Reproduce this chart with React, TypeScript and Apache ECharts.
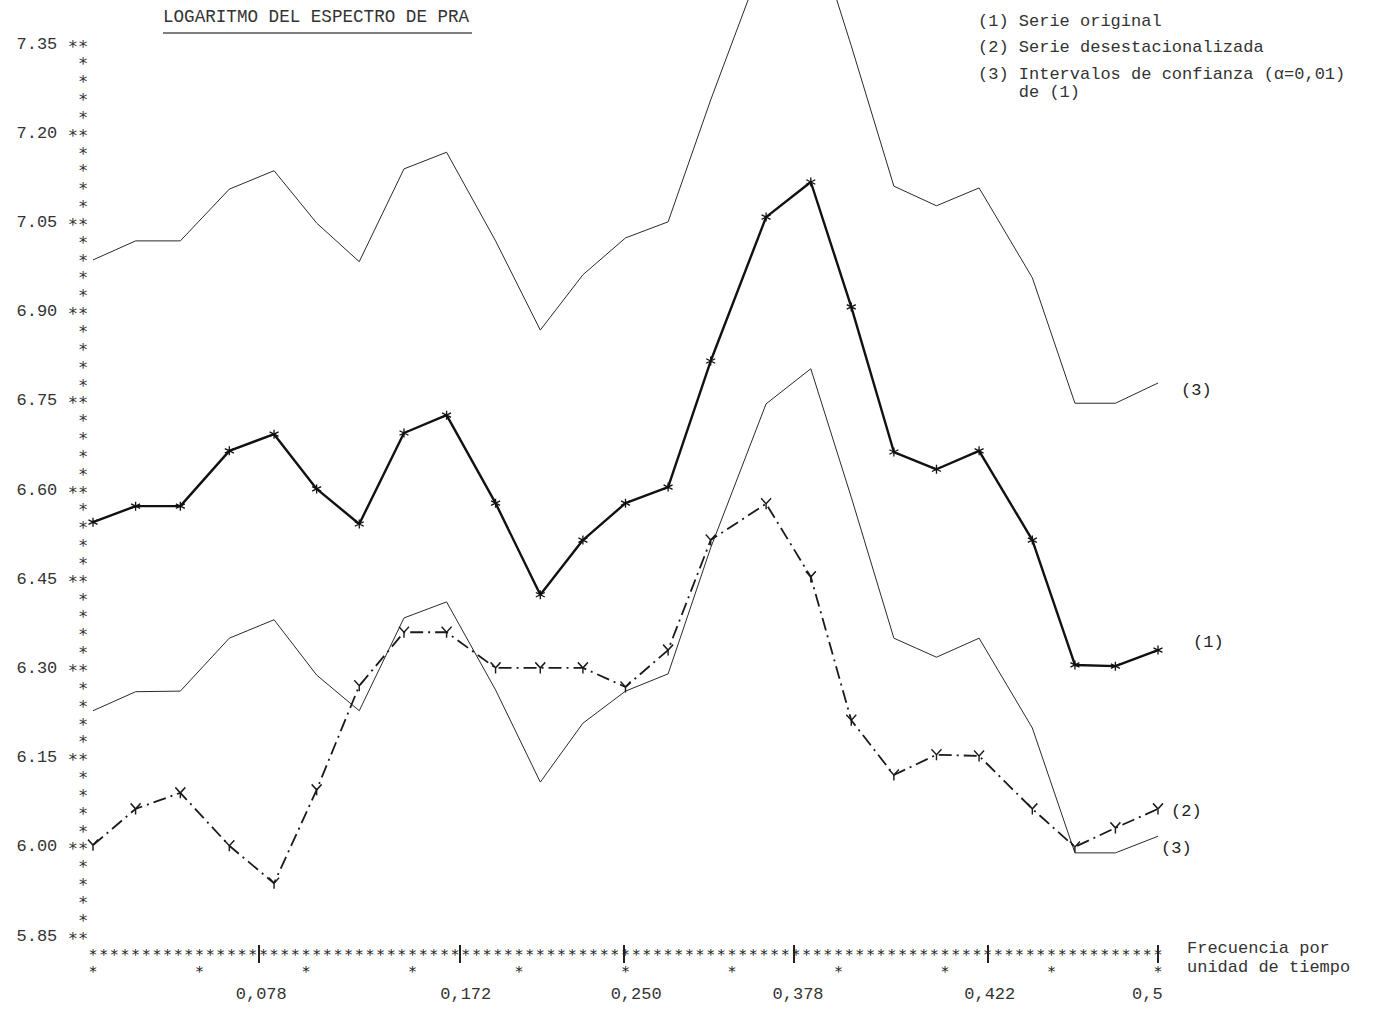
import React, { useEffect, useRef } from 'react';
import * as echarts from 'echarts';

// Frequencies (cycles per unit of time) of the plotted points
const FREQ = [0, 0.020, 0.041, 0.064, 0.085, 0.105, 0.125, 0.146, 0.166, 0.189, 0.210, 0.230, 0.250,
  0.270, 0.290, 0.316, 0.337, 0.356, 0.376, 0.396, 0.416, 0.441, 0.461, 0.480, 0.500];

// (1) Serie original
const SERIE_ORIGINAL = [6.546, 6.573, 6.573, 6.666, 6.694, 6.602, 6.543, 6.696, 6.726, 6.578, 6.424, 6.516,
  6.578, 6.605, 6.817, 7.059, 7.118, 6.908, 6.664, 6.635, 6.666, 6.516, 6.306, 6.304, 6.331];

// (2) Serie desestacionalizada
const SERIE_DESEST = [6.003, 6.064, 6.091, 6.002, 5.939, 6.096, 6.271, 6.361, 6.361, 6.301, 6.301, 6.301,
  6.269, 6.331, 6.516, 6.577, 6.454, 6.213, 6.121, 6.155, 6.153, 6.064, 6.000, 6.032, 6.064];

// (3) Intervalos de confianza de (1)
const IC_SUP = [6.987, 7.019, 7.019, 7.106, 7.137, 7.049, 6.984, 7.140, 7.168, 7.019, 6.869, 6.962,
  7.024, 7.051, 7.256, 7.505, 7.562, 7.347, 7.111, 7.078, 7.108, 6.957, 6.746, 6.746, 6.780];
const IC_INF = [6.229, 6.261, 6.262, 6.351, 6.382, 6.289, 6.229, 6.385, 6.412, 6.264, 6.109, 6.208,
  6.262, 6.291, 6.503, 6.745, 6.804, 6.588, 6.351, 6.319, 6.351, 6.200, 5.990, 5.990, 6.018];

// X tick labels as typed on the printout, where the marks and labels sit on the frequency axis
const X_LABELS = ['0,078', '0,172', '0,250', '0,378', '0,422', '0,5'];
const X_TICK_AT = [0.078, 0.172, 0.249, 0.329, 0.420, 0.500];
const X_LABEL_AT = [0.079, 0.175, 0.255, 0.331, 0.421, 0.495];

const TITLE = 'LOGARITMO DEL ESPECTRO DE PRA';
const LEGEND = ['(1) Serie original', '(2) Serie desestacionalizada', '(3) Intervalos de confianza (\u03b1=0,01)', '    de (1)'];
const X_NAME = ['Frecuencia por', 'unidad de tiempo'];

const Y_MIN = 5.82;
const Y_MAX = 7.424;
const Y_STEP = 0.03;
const X_STEP = 0.005;

export default function App() {
  const ref = useRef<HTMLDivElement>(null);

  useEffect(() => {
    document.body.style.margin = '0';
    const chart = echarts.init(ref.current!, null, { renderer: 'svg' });
    const MONO = '"Liberation Mono", "DejaVu Sans Mono", monospace';
    const STAR = '\u2217';
    const pts = (ys: number[]) => FREQ.map((f, i) => [f, ys[i]]);
    const ASTER = 'path://M0,-6L0,6M-5.2,-3L5.2,3M-5.2,3L5.2,-3';
    const YSYM = 'path://M-5,-6L0,0M5,-6L0,0M0,0L0,6';

    const labelText = (v: number) => {
      let best = -1;
      let d = 1;
      X_LABEL_AT.forEach((p, i) => {
        const dd = Math.abs(p - v);
        if (dd < d) { d = dd; best = i; }
      });
      return best >= 0 && d < 1e-4 ? X_LABELS[best] : '';
    };

    const endLabel = (text: string, distance: number, dy: number) => ({
      show: true,
      formatter: text,
      distance,
      offset: [0, dy],
      fontFamily: MONO,
      fontSize: 17,
      color: '#222',
    });

    chart.setOption({
      animation: false,
      backgroundColor: '#ffffff',
      grid: { left: 93, right: 219, top: 0, bottom: 57, containLabel: false },
      xAxis: [
        {
          type: 'value', min: 0, max: 0.5, interval: X_STEP, position: 'bottom',
          axisLine: { show: false }, axisTick: { show: false }, splitLine: { show: false },
          axisLabel: {
            show: true, margin: -9, fontFamily: MONO, fontSize: 15, lineHeight: 17, color: '#222',
            formatter: (v: number) => {
              const k = Math.round(v / X_STEP);
              return k % 10 === 0 ? STAR + '\n' + STAR : STAR;
            },
          },
        },
        {
          type: 'value', min: 0, max: 0.5, position: 'bottom',
          axisLine: { show: false }, splitLine: { show: false },
          axisTick: { show: true, inside: true, length: 9, customValues: X_TICK_AT, lineStyle: { color: '#222', width: 2 } },
          axisLabel: { show: true, customValues: X_LABEL_AT, margin: 32, fontFamily: MONO, fontSize: 17, color: '#333', formatter: labelText },
        },
        {
          type: 'value', min: 0, max: 0.5, position: 'bottom',
          axisLine: { show: false }, splitLine: { show: false },
          axisTick: { show: true, inside: false, length: 9, customValues: X_TICK_AT, lineStyle: { color: '#222', width: 2 } },
          axisLabel: { show: false },
        },
      ],
      yAxis: {
        type: 'value', min: Y_MIN, max: Y_MAX, interval: Y_STEP,
        axisLine: { show: false }, axisTick: { show: false }, splitLine: { show: false },
        axisLabel: {
          show: true, margin: 5, fontFamily: MONO, fontSize: 17, color: '#333',
          formatter: (v: number) => {
            const k = Math.round((v - Y_MIN) / Y_STEP);
            if (k < 1 || k > 51) return '';
            if ((k - 1) % 5 === 0) return v.toFixed(2) + ' ' + STAR + STAR;
            return STAR;
          },
        },
      },
      series: [
        {
          name: '(3) sup', type: 'line', data: pts(IC_SUP), symbol: 'none', clip: true,
          lineStyle: { color: '#2a2a2a', width: 1 },
          endLabel: endLabel('(3)', 23, 7),
        },
        {
          name: '(3) inf', type: 'line', data: pts(IC_INF), symbol: 'none', clip: true,
          lineStyle: { color: '#2a2a2a', width: 1 },
          endLabel: endLabel('(3)', 3, 12),
        },
        {
          name: '(2)', type: 'line', data: pts(SERIE_DESEST), symbol: YSYM, symbolSize: [10, 11], clip: true,
          lineStyle: { color: '#1a1a1a', width: 1.8, type: [13, 5, 2, 5] },
          itemStyle: { color: 'transparent', borderColor: '#1a1a1a', borderWidth: 1.5 },
          endLabel: endLabel('(2)', 13, 3),
        },
        {
          name: '(1)', type: 'line', data: pts(SERIE_ORIGINAL), symbol: ASTER, symbolSize: 9, clip: true,
          lineStyle: { color: '#111', width: 2.4 },
          itemStyle: { color: 'transparent', borderColor: '#111', borderWidth: 1.3 },
          endLabel: endLabel('(1)', 35, -8),
        },
      ],
      graphic: [
        { type: 'text', left: 163, top: 8, style: { text: TITLE, fontFamily: MONO, fontSize: 17.6, fill: '#333' } },
        { type: 'line', shape: { x1: 163, y1: 33, x2: 472, y2: 33 }, style: { stroke: '#555', lineWidth: 1.3 } },
        { type: 'text', x: 978, y: 21, style: { text: LEGEND[0], fontFamily: MONO, fontSize: 17, fill: '#333', verticalAlign: 'middle' } },
        { type: 'text', x: 978, y: 47, style: { text: LEGEND[1], fontFamily: MONO, fontSize: 17, fill: '#333', verticalAlign: 'middle' } },
        { type: 'text', x: 978, y: 74, style: { text: LEGEND[2], fontFamily: MONO, fontSize: 17, fill: '#333', verticalAlign: 'middle' } },
        { type: 'text', x: 978, y: 92, style: { text: LEGEND[3], fontFamily: MONO, fontSize: 17, fill: '#333', verticalAlign: 'middle' } },
        { type: 'text', x: 1187, y: 948, style: { text: X_NAME[0], fontFamily: MONO, fontSize: 17, fill: '#333', verticalAlign: 'middle' } },
        { type: 'text', x: 1187, y: 967, style: { text: X_NAME[1], fontFamily: MONO, fontSize: 17, fill: '#333', verticalAlign: 'middle' } },
      ],
    });
    return () => chart.dispose();
  }, []);

  return <div ref={ref} style={{ position: 'absolute', left: 0, top: 0, width: 1377, height: 1011 }} />;
}
